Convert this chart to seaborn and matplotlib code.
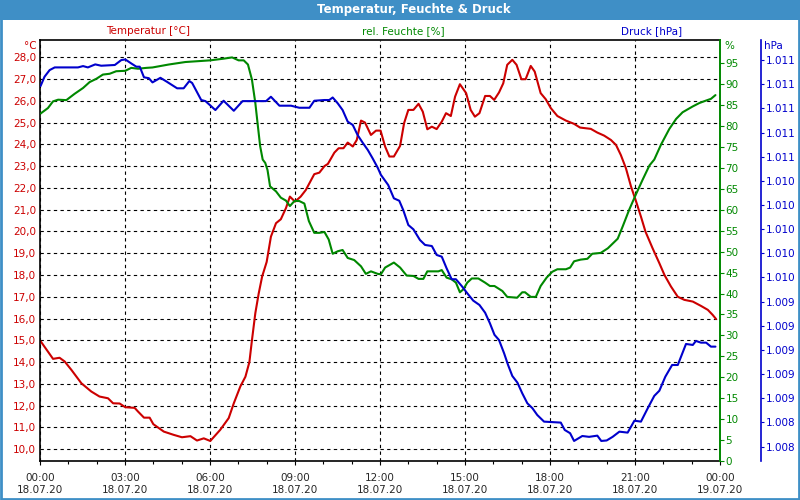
import matplotlib
matplotlib.use("Agg")
import matplotlib.pyplot as plt
from matplotlib.patches import Rectangle
from matplotlib.ticker import FixedLocator, FuncFormatter
import seaborn as sns

# ---------------- data ----------------
title = "Temperatur, Feuchte & Druck"
series_labels = ["Temperatur [°C]", "rel. Feuchte [%]", "Druck [hPa]"]

temp_hours = [0, 0.46, 0.69, 0.87, 1.11, 1.46, 1.81, 2.1, 2.4, 2.58,
              2.81, 3.01, 3.34, 3.46, 3.67, 3.87, 4.0, 4.37, 4.72, 5.01,
              5.31, 5.54, 5.78, 6.01, 6.36, 6.66, 6.84, 7.07, 7.25, 7.39,
              7.48, 7.6, 7.72, 7.84, 8.0, 8.15, 8.33, 8.5, 8.68, 8.82,
              9.0, 9.2, 9.38, 9.68, 9.86, 10.04, 10.16, 10.39, 10.54, 10.71,
              10.86, 11.04, 11.18, 11.33, 11.47, 11.68, 11.86, 12.02, 12.18, 12.33,
              12.49, 12.71, 12.85, 13.0, 13.18, 13.36, 13.51, 13.67, 13.83, 14.0,
              14.18, 14.33, 14.5, 14.65, 14.82, 15.04, 15.2, 15.35, 15.51, 15.71,
              15.88, 16.03, 16.2, 16.35, 16.49, 16.67, 16.82, 16.99, 17.14, 17.32,
              17.46, 17.67, 17.85, 18.03, 18.26, 18.56, 18.85, 19.06, 19.44, 19.67,
              19.91, 20.15, 20.33, 20.5, 20.68, 20.86, 21.04, 21.21, 21.37, 21.62,
              21.86, 22.04, 22.27, 22.51, 22.74, 23.04, 23.33, 23.57, 23.74, 23.86]
temp_values = [15.0, 14.15, 14.2, 14.03, 13.64, 13.03, 12.65, 12.42, 12.34, 12.11,
               12.1, 11.93, 11.9, 11.73, 11.45, 11.45, 11.15, 10.81, 10.66, 10.55,
               10.6, 10.4, 10.5, 10.38, 10.89, 11.43, 12.11, 12.88, 13.33, 14.0,
               15.0, 16.25, 17.16, 17.93, 18.6, 19.76, 20.38, 20.56, 21.07, 21.6,
               21.37, 21.6, 21.9, 22.63, 22.7, 23.0, 23.1, 23.62, 23.82, 23.82,
               24.08, 23.9, 24.2, 25.09, 25.0, 24.43, 24.63, 24.63, 23.9, 23.44,
               23.44, 23.93, 24.97, 25.58, 25.58, 25.86, 25.5, 24.69, 24.81, 24.7,
               25.04, 25.43, 25.3, 26.19, 26.76, 26.35, 25.58, 25.27, 25.43, 26.22,
               26.22, 26.04, 26.38, 26.8, 27.65, 27.88, 27.65, 26.99, 26.99, 27.6,
               27.34, 26.35, 26.07, 25.66, 25.3, 25.09, 24.94, 24.77, 24.71, 24.54,
               24.4, 24.2, 23.97, 23.51, 22.9, 22.06, 21.37, 20.68, 19.99, 19.23,
               18.54, 18.0, 17.47, 17.0, 16.86, 16.78, 16.58, 16.4, 16.17, 15.98]

hum_hours = [0.02, 0.28, 0.46, 0.64, 0.93, 1.22, 1.52, 1.75, 1.99, 2.22,
             2.46, 2.69, 3.01, 3.22, 3.46, 3.75, 3.97, 4.54, 5.13, 6.01,
             6.48, 6.78, 7.01, 7.19, 7.34, 7.48, 7.6, 7.69, 7.77, 7.86,
             7.95, 8.03, 8.12, 8.33, 8.5, 8.68, 8.82, 8.98, 9.15, 9.33,
             9.49, 9.68, 9.86, 10.04, 10.19, 10.33, 10.51, 10.68, 10.86, 11.09,
             11.33, 11.5, 11.68, 11.92, 12.03, 12.18, 12.49, 12.71, 12.94, 13.18,
             13.36, 13.53, 13.67, 13.88, 14.06, 14.18, 14.35, 14.53, 14.68, 14.82,
             14.94, 15.08, 15.24, 15.47, 15.71, 15.88, 16.04, 16.32, 16.49, 16.84,
             17.02, 17.12, 17.32, 17.5, 17.67, 17.88, 18.08, 18.26, 18.56, 18.71,
             18.85, 19.08, 19.32, 19.49, 19.79, 20.04, 20.39, 20.57, 20.8, 21.04,
             21.27, 21.51, 21.68, 21.92, 22.21, 22.45, 22.68, 23.04, 23.27, 23.51,
             23.68, 23.84]
hum_values = [83.0, 84.3, 85.9, 86.3, 86.2, 87.7, 89.1, 90.5, 91.3, 92.3,
              92.5, 93.1, 93.2, 93.9, 93.7, 93.9, 94.0, 94.7, 95.3, 95.7,
              96.1, 96.4, 95.7, 95.7, 94.7, 91.1, 85.5, 80.0, 75.2, 72.0,
              71.2, 69.5, 65.6, 64.4, 62.9, 62.2, 60.9, 62.1, 62.1, 61.5,
              57.3, 54.5, 54.5, 54.7, 52.9, 49.5, 50.1, 50.4, 48.5, 48.0,
              46.5, 44.7, 45.3, 44.7, 44.6, 46.2, 47.4, 46.2, 44.3, 44.2,
              43.5, 43.5, 45.3, 45.3, 45.3, 45.6, 43.8, 43.4, 42.6, 40.3,
              41.0, 42.6, 43.6, 43.6, 42.6, 41.8, 41.8, 40.6, 39.2, 39.0,
              40.3, 40.3, 39.2, 39.2, 41.8, 43.8, 45.2, 45.8, 45.8, 46.2,
              47.7, 48.1, 48.3, 49.5, 49.7, 50.8, 53.1, 56.1, 60.1, 63.8,
              67.2, 70.6, 72.0, 75.6, 79.3, 81.7, 83.3, 84.7, 85.5, 86.1,
              86.5, 87.4]

press_hours = [0.02, 0.16, 0.34, 0.52, 1.34, 1.52, 1.69, 1.95, 2.16, 2.64,
               2.87, 3.01, 3.22, 3.4, 3.52, 3.67, 3.84, 3.97, 4.25, 4.48,
               4.84, 5.07, 5.27, 5.37, 5.69, 5.84, 6.19, 6.48, 6.84, 7.15,
               7.98, 8.15, 8.45, 8.86, 9.15, 9.51, 9.68, 10.04, 10.21, 10.33,
               10.51, 10.68, 10.86, 11.04, 11.21, 11.39, 11.57, 11.74, 11.92, 12.03,
               12.29, 12.49, 12.68, 12.82, 13.0, 13.18, 13.41, 13.59, 13.83, 14.0,
               14.18, 14.35, 14.53, 14.68, 14.88, 15.08, 15.29, 15.51, 15.71, 15.88,
               16.04, 16.2, 16.38, 16.52, 16.67, 16.85, 17.02, 17.2, 17.38, 17.55,
               17.79, 18.38, 18.52, 18.71, 18.85, 19.14, 19.38, 19.67, 19.81, 20.0,
               20.21, 20.45, 20.74, 20.98, 21.21, 21.45, 21.68, 21.86, 22.07, 22.31,
               22.51, 22.8, 23.04, 23.15, 23.33, 23.51, 23.68, 23.84]
press_values = [1011.185, 1011.262, 1011.317, 1011.339, 1011.339, 1011.35, 1011.339, 1011.364, 1011.353, 1011.359,
                1011.4, 1011.405, 1011.372, 1011.345, 1011.345, 1011.257, 1011.25, 1011.215, 1011.253, 1011.22,
                1011.166, 1011.166, 1011.226, 1011.21, 1011.069, 1011.06, 1010.986, 1011.063, 1010.98, 1011.06,
                1011.06, 1011.096, 1011.022, 1011.022, 1011.005, 1011.005, 1011.063, 1011.069, 1011.069, 1011.09,
                1011.041, 1010.986, 1010.89, 1010.862, 1010.779, 1010.715, 1010.655, 1010.586, 1010.508, 1010.45,
                1010.365, 1010.255, 1010.235, 1010.158, 1010.034, 1009.998, 1009.91, 1009.869, 1009.86, 1009.786,
                1009.772, 1009.676, 1009.585, 1009.585, 1009.53, 1009.469, 1009.408, 1009.372, 1009.308, 1009.22,
                1009.125, 1009.082, 1008.972, 1008.875, 1008.784, 1008.729, 1008.641, 1008.558, 1008.517, 1008.461,
                1008.406, 1008.398, 1008.337, 1008.31, 1008.246, 1008.287, 1008.28, 1008.29, 1008.246, 1008.25,
                1008.28, 1008.323, 1008.315, 1008.414, 1008.406, 1008.517, 1008.619, 1008.662, 1008.778, 1008.875,
                1008.875, 1009.049, 1009.041, 1009.074, 1009.06, 1009.06, 1009.027, 1009.027]

x_ticks = [0, 3, 6, 9, 12, 15, 18, 21, 24]
x_tick_labels = ["00:00\n18.07.20", "03:00\n18.07.20", "06:00\n18.07.20",
                 "09:00\n18.07.20", "12:00\n18.07.20", "15:00\n18.07.20",
                 "18:00\n18.07.20", "21:00\n18.07.20", "00:00\n19.07.20"]
x_minor_ticks = [1, 2, 4, 5, 7, 8, 10, 11, 13, 14, 16, 17, 19, 20, 22, 23]
temp_ticks = [10, 11, 12, 13, 14, 15, 16, 17, 18, 19, 20, 21, 22, 23, 24, 25, 26, 27, 28]
hum_ticks = [0, 5, 10, 15, 20, 25, 30, 35, 40, 45, 50, 55, 60, 65, 70, 75, 80, 85, 90, 95]
press_ticks = [1008.2, 1008.4, 1008.6, 1008.8, 1009.0, 1009.2, 1009.4, 1009.6, 1009.8,
               1010.0, 1010.2, 1010.4, 1010.6, 1010.8, 1011.0, 1011.2, 1011.4]

# ---------------- style ----------------
RED = "#cc0000"
GREEN = "#008800"
BLUE = "#0000cc"
BAR = "#3f8fc6"
PX = 72 / 100  # points per pixel at 100 dpi

sns.set_style("white")
plt.rcParams["font.family"] = ["DejaVu Sans"]
plt.rcParams["font.size"] = 7.5

fig = plt.figure(figsize=(8, 5), dpi=100)
fig.patch.set_facecolor("white")
ax = fig.add_axes([40 / 800, 1 - 461 / 500, 680 / 800, 421 / 500])
ax2 = ax.twinx()
ax3 = ax.twinx()

lw = 1.5
sns.lineplot(x=temp_hours, y=temp_values, ax=ax, color=RED, lw=lw, estimator=None, sort=False)
sns.lineplot(x=hum_hours, y=hum_values, ax=ax2, color=GREEN, lw=lw, estimator=None, sort=False)
sns.lineplot(x=press_hours, y=press_values, ax=ax3, color=BLUE, lw=lw, estimator=None, sort=False)

ax.set_xlim(0, 24)
ax.set_ylim(9.46, 28.79)
ax2.set_ylim(0, 100.56)
ax3.set_ylim(1008.08, 1011.566)

# x axis
ax.xaxis.set_major_locator(FixedLocator(x_ticks))
ax.xaxis.set_minor_locator(FixedLocator(x_minor_ticks))
ax.set_xticklabels(x_tick_labels)
ax.tick_params(axis="x", which="both", direction="out", length=3 * PX, width=0.8,
               color="black", labelsize=7.5, pad=8 * PX, bottom=True)
ax.tick_params(axis="x", which="major", length=4 * PX)

# temperature axis
ax.yaxis.set_major_locator(FixedLocator(temp_ticks))
ax.yaxis.set_major_formatter(FuncFormatter(lambda v, p: f"{v:.1f}".replace(".", ",")))
ax.tick_params(axis="y", length=0, labelcolor=RED, labelsize=7.5, pad=4 * PX, left=True)

# humidity axis
ax2.yaxis.set_major_locator(FixedLocator(hum_ticks))
ax2.yaxis.set_major_formatter(FuncFormatter(lambda v, p: f"{v:.0f}"))
ax2.tick_params(axis="y", direction="out", length=4 * PX, width=0.8, color=GREEN,
                labelcolor=GREEN, labelsize=7.5, pad=1, right=True)

# pressure axis
ax3.spines["right"].set_position(("outward", 41 * PX))
ax3.yaxis.set_major_locator(FixedLocator(press_ticks))
ax3.yaxis.set_major_formatter(FuncFormatter(lambda v, p: f"{v:,.0f}".replace(",", ".")))
ax3.tick_params(axis="y", direction="out", length=3 * PX, width=0.8, color=BLUE,
                labelcolor=BLUE, labelsize=7.5, pad=2 * PX, right=True)

for a in (ax, ax2, ax3):
    a.set_xlabel("")
    a.set_ylabel("")
    for s in a.spines.values():
        s.set_visible(False)

for side in ("left", "bottom", "top"):
    ax.spines[side].set_visible(True)
    ax.spines[side].set_color("black")
    ax.spines[side].set_linewidth(1.2)
ax2.spines["right"].set_visible(True)
ax2.spines["right"].set_color(GREEN)
ax2.spines["right"].set_linewidth(1.4)
ax3.spines["right"].set_visible(True)
ax3.spines["right"].set_color(BLUE)
ax3.spines["right"].set_linewidth(1.2)

ax.grid(True, which="major", axis="both", color="black", linestyle=(0, (3, 3)), linewidth=0.8)
ax.set_axisbelow(True)

# title bar and border
fig.add_artist(Rectangle((0, 1 - 20 / 500), 1, 20 / 500, transform=fig.transFigure,
                         facecolor=BAR, edgecolor="none", zorder=0))
fig.add_artist(Rectangle((0.001, 0.002), 0.998, 0.996, transform=fig.transFigure,
                         fill=False, edgecolor=BAR, linewidth=2, zorder=10))
fig.text(414 / 800, 1 - 10 / 500, title, color="white", fontsize=8.5,
         fontweight="bold", ha="center", va="center")

# series labels
fig.text(148 / 800, 1 - 31 / 500, series_labels[0], color=RED, fontsize=7.5, ha="center", va="center")
fig.text(403 / 800, 1 - 31 / 500, series_labels[1], color=GREEN, fontsize=7.5, ha="center", va="center")
fig.text(652 / 800, 1 - 31 / 500, series_labels[2], color=BLUE, fontsize=7.5, ha="center", va="center")

# unit labels
fig.text(37 / 800, 1 - 46 / 500, "°C", color=RED, fontsize=7.5, ha="right", va="center")
fig.text(724 / 800, 1 - 46 / 500, "%", color=GREEN, fontsize=7.5, ha="left", va="center")
fig.text(764 / 800, 1 - 46 / 500, "hPa", color=BLUE, fontsize=7.5, ha="left", va="center")

fig.savefig("out.png", dpi=100)
